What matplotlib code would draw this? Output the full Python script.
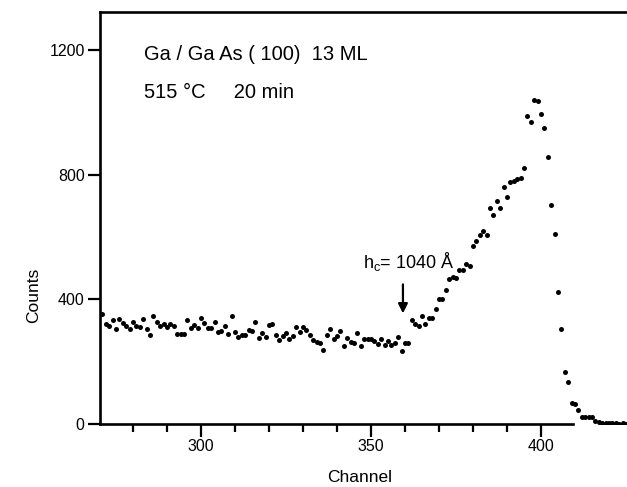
import matplotlib
matplotlib.use("Agg")
import matplotlib.pyplot as plt
import numpy as np

FONT = ['Liberation Sans', 'DejaVu Sans']
plt.rcParams['font.family'] = FONT
plt.rcParams['font.stretch'] = 'condensed'

# channel numbers and counts
channels = np.arange(271, 426)
baseline_counts = [
    352, 320, 315, 333, 304, 336, 323, 315, 304, 326,
    315, 310, 336, 304, 285, 346, 326, 315, 320, 310,
    320, 315, 290, 288, 288, 335, 307, 317, 307, 339,
    324, 307, 307, 326, 294, 298, 314, 289, 347, 295,
    278, 285, 285, 301, 300, 326, 276, 291, 278, 317,
    320, 285, 269, 282, 292, 272, 282, 311, 295, 310,
    301, 285, 269, 263, 259, 237, 285, 304, 272, 282,
    298, 250, 276, 262, 259, 292, 250, 272, 272, 272,
    265, 256, 272, 253, 265, 253, 259, 278, 234, 260,
    260,
]
rise_counts = [
    333, 322, 314, 346, 322, 341, 341, 368, 400, 400,
    429, 466, 471, 469, 493, 495, 512, 506, 571, 587,
    605, 618, 608, 692, 671, 715, 694, 760, 727, 778,
    781, 785, 789, 823,
]
edge_counts = [
    989, 970, 1040, 1038, 996, 949, 858, 704, 610, 423,
    304, 167, 134, 66, 63, 45, 22, 22, 22, 22,
    10, 6, 4, 3, 2, 2, 2, 1, 2, 1,
]
counts = np.array(baseline_counts + rise_counts + edge_counts)

x_ticks = [300, 350, 400]
y_ticks = [0, 400, 800, 1200]
hc_channel = 359.4

fig = plt.figure(figsize=(6.27, 4.87), dpi=100)
ax = fig.add_axes([100 / 627, 1 - 424 / 487, 527 / 627, 412 / 487])

ax.plot(channels, counts, 'o', color='black', markersize=3.6, markeredgewidth=0)

ax.set_xlim(270.3, 425.3)
ax.set_ylim(0, 1322)

ax.spines['right'].set_visible(False)
for s in ['left', 'top', 'bottom']:
    ax.spines[s].set_linewidth(1.9)
ax.spines['bottom'].set_bounds(270.3, 409.5)

ax.set_xticks(x_ticks)
ax.set_xticks(np.arange(280, 410, 10), minor=True)
ax.set_yticks(y_ticks)
ax.tick_params(axis='both', which='major', direction='out', length=9,
               width=1.6, labelsize=11.5, pad=2)
ax.tick_params(axis='x', which='minor', direction='out', length=6, width=1.6)
ax.tick_params(top=False, right=False)

ax.set_xlabel('Channel', fontsize=12.5)
ax.set_ylabel('Counts', fontsize=12.5)
ax.xaxis.set_label_coords(0.493, -0.112)
ax.yaxis.set_label_coords(-0.112, 0.313)

ax.text(283.2, 1168, 'Ga / Ga As ( 100)  13 ML', fontsize=14.5, va='baseline')
ax.text(283.2, 1046, '515 °C     20 min', fontsize=14.5, va='baseline')

ax.text(361, 500, r'h$_\mathregular{c}$= 1040 Å', fontsize=13, ha='center',
        va='baseline')
ax.annotate('', xy=(hc_channel, 355), xytext=(hc_channel, 448),
            arrowprops=dict(arrowstyle='-|>', color='black', lw=1.6,
                            mutation_scale=14, shrinkA=0, shrinkB=0))

fig.savefig('out.png', dpi=100)
